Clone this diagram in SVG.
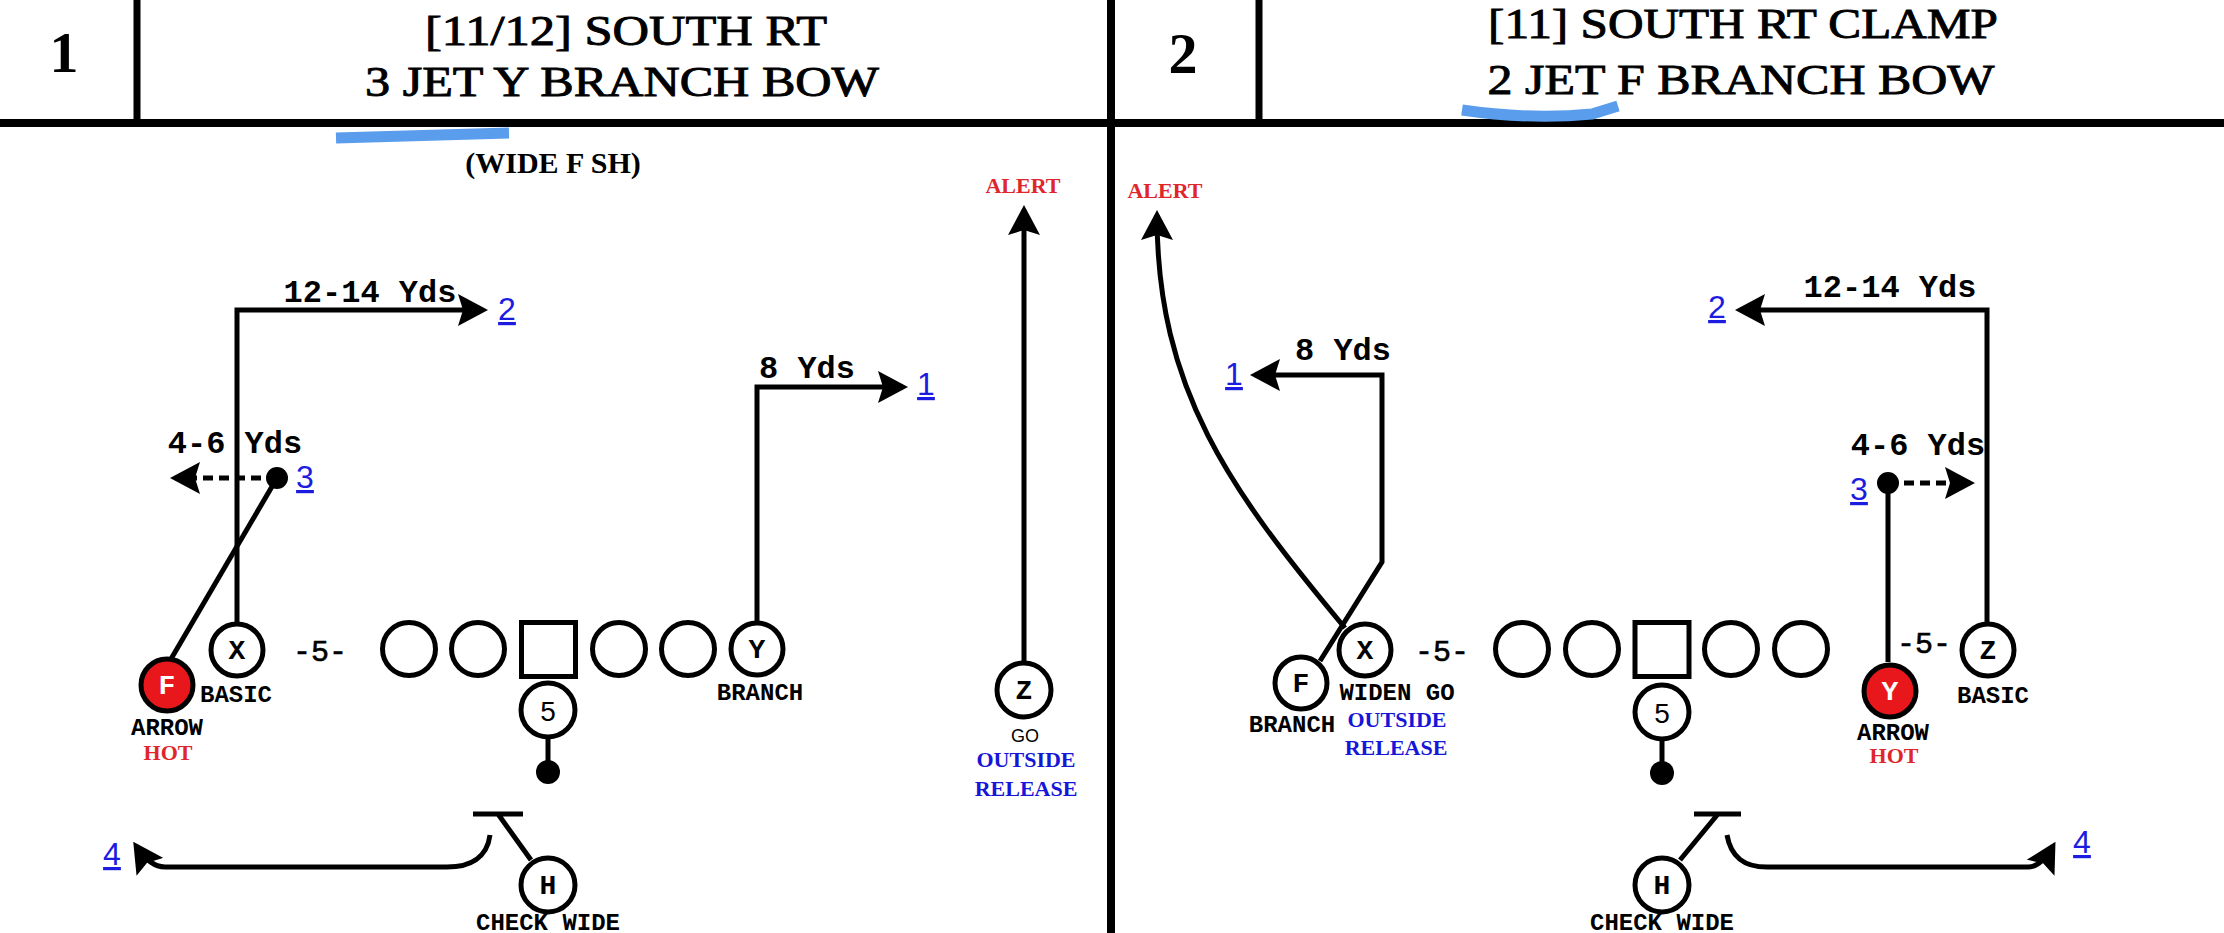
<svg xmlns="http://www.w3.org/2000/svg" width="2224" height="933" viewBox="0 0 2224 933">
<defs>
<style>
.frame{stroke:#000;fill:none}
.pl{fill:#fff;stroke:#000;stroke-width:5}
.hotc{fill:#e8171c;stroke:#000;stroke-width:5}
.rt{fill:none;stroke:#000;stroke-width:5}
.dash{stroke-dasharray:10 6}
.dot{fill:#000}
.title{font-family:"Liberation Serif",serif;font-size:42px;fill:#000;stroke:#000;stroke-width:0.9;text-anchor:middle}
.num{font-family:"Liberation Serif",serif;font-size:58px;font-weight:bold;text-anchor:middle}
.lt{font-family:"Liberation Mono",monospace;font-weight:bold;font-size:28px;text-anchor:middle;fill:#000}
.ltw{font-family:"Liberation Mono",monospace;font-weight:bold;font-size:28px;text-anchor:middle;fill:#fff}
.lbl{font-family:"Liberation Mono",monospace;font-weight:bold;font-size:24px;text-anchor:middle;fill:#000}
.yd{font-family:"Liberation Mono",monospace;font-weight:bold;font-size:32px;text-anchor:middle;fill:#000}
.five{font-family:"Liberation Mono",monospace;font-size:30px;text-anchor:middle;fill:#000;stroke:#000;stroke-width:0.6}
.qb{font-family:"Liberation Sans",sans-serif;font-size:28px;text-anchor:middle;fill:#000}
.pn{font-family:"Liberation Sans",sans-serif;font-size:32px;fill:#1c1ce0;text-decoration:underline;text-anchor:middle}
.red{font-family:"Liberation Serif",serif;font-weight:bold;font-size:22px;fill:#e0262b;text-anchor:middle}
.blue{font-family:"Liberation Serif",serif;font-weight:bold;font-size:22px;fill:#1616d8;text-anchor:middle}
.go{font-family:"Liberation Sans",sans-serif;font-size:18px;text-anchor:middle;fill:#000}
.sub{font-family:"Liberation Serif",serif;font-weight:bold;font-size:30px;text-anchor:middle;fill:#000}
.hl{fill:none;stroke:#5a9ded;stroke-width:11}
</style>
<marker id="ah" markerUnits="userSpaceOnUse" markerWidth="30" markerHeight="32" viewBox="0 0 30 32" refX="25" refY="16" orient="auto">
<path d="M0 0 L30 16 L0 32 L5 16 Z" fill="#000" stroke="none"/>
</marker>
</defs>
<rect x="0" y="0" width="2224" height="933" fill="#fff"/>

<g id="frame">
<path class="frame" stroke-width="8" d="M0 123 H2224"/>
<path class="frame" stroke-width="8" d="M1111 0 V933"/>
<path class="frame" stroke-width="7" d="M137 0 V123 M1259 0 V123"/>
</g>

<g id="header1">
<text class="num" x="64" y="72">1</text>
<text class="title" x="626" y="45" textLength="402" lengthAdjust="spacingAndGlyphs">[11/12] SOUTH RT</text>
<text class="title" x="622" y="96" textLength="514" lengthAdjust="spacingAndGlyphs">3 JET Y BRANCH BOW</text>
<path class="hl" d="M336 138 L509 133"/>
<text class="sub" x="553" y="173">(WIDE F SH)</text>
</g>
<g id="header2">
<text class="num" x="1183" y="73">2</text>
<text class="title" x="1743" y="38" textLength="510" lengthAdjust="spacingAndGlyphs">[11] SOUTH RT CLAMP</text>
<text class="title" x="1741" y="94" textLength="507" lengthAdjust="spacingAndGlyphs">2 JET F BRANCH BOW</text>
<path class="hl" d="M1462 110 Q1530 120 1592 114 L1618 106"/>
</g>

<g id="connectors">
<path class="rt" d="M237 622 L237 310 L483 310" marker-end="url(#ah)"/>
<path class="rt" d="M171 659 L277 478"/>
<path class="rt dash" d="M277 478 L175 478" marker-end="url(#ah)"/>
<path class="rt" d="M757 621 L757 387 L903 387" marker-end="url(#ah)"/>
<path class="rt" d="M1024 662 L1024 210" marker-end="url(#ah)"/>
<path class="rt" d="M548 738 L548 762"/>
<path class="rt" d="M473 814 L523 814 M498 814 L531 860"/>
<path class="rt" d="M490 835 C487 858 470 867 447 867 L165 867 Q150 867 136 846" marker-end="url(#ah)"/>
<path class="rt" d="M1987 622 L1987 310 L1740 310" marker-end="url(#ah)"/>
<path class="rt" d="M1888 662 L1888 483"/>
<path class="rt dash" d="M1888 483 L1970 483" marker-end="url(#ah)"/>
<path class="rt" d="M1320 661 L1382 562 L1382 375 L1255 375" marker-end="url(#ah)"/>
<path class="rt" d="M1345 628 C1230 490 1157 390 1157 215" marker-end="url(#ah)"/>
<path class="rt" d="M1662 739 L1662 762"/>
<path class="rt" d="M1694 814 L1741 814 M1718 814 L1680 860"/>
<path class="rt" d="M1727 835 C1731 858 1745 867 1767 867 L2028 867 Q2041 867 2053 846" marker-end="url(#ah)"/>
</g>

<g id="p1-labels">
<text class="yd" x="370" y="302">12-14 Yds</text>
<text class="pn" x="507" y="320">2</text>
<text class="yd" x="235" y="453">4-6 Yds</text>
<text class="pn" x="305" y="488">3</text>
<text class="yd" x="807" y="378">8 Yds</text>
<text class="pn" x="926" y="395">1</text>
<text class="pn" x="112" y="865">4</text>
<text class="red" x="1023" y="193">ALERT</text>
<text class="five" x="320" y="661">-5-</text>
</g>
<g id="p2-labels">
<text class="yd" x="1890" y="297">12-14 Yds</text>
<text class="pn" x="1717" y="318">2</text>
<text class="yd" x="1918" y="455">4-6 Yds</text>
<text class="pn" x="1859" y="500">3</text>
<text class="yd" x="1343" y="360">8 Yds</text>
<text class="pn" x="1234" y="385">1</text>
<text class="pn" x="2082" y="853">4</text>
<text class="red" x="1165" y="198">ALERT</text>
<text class="five" x="1442" y="661">-5-</text>
<text class="five" x="1924" y="653">-5-</text>
</g>

<g id="p1-dot3"><circle class="dot" cx="277" cy="478" r="11"/></g>
<g id="p1-F"><circle class="hotc" cx="167" cy="685" r="26"/><text class="ltw" x="167" y="694">F</text>
<text class="lbl" x="167" y="735">ARROW</text><text class="red" x="168" y="760">HOT</text></g>
<g id="p1-X"><circle class="pl" cx="237" cy="650" r="26"/><text class="lt" x="237" y="659">X</text>
<text class="lbl" x="236" y="702">BASIC</text></g>
<g id="p1-OL">
<circle class="pl" cx="409" cy="649" r="26.5"/>
<circle class="pl" cx="478" cy="649" r="26.5"/>
<rect class="pl" x="521.5" y="622.5" width="54" height="54"/>
<circle class="pl" cx="619" cy="649" r="26.5"/>
<circle class="pl" cx="688" cy="649" r="26.5"/>
</g>
<g id="p1-Y"><circle class="pl" cx="757" cy="649" r="26"/><text class="lt" x="757" y="658">Y</text>
<text class="lbl" x="760" y="700">BRANCH</text></g>
<g id="p1-QB"><circle class="pl" cx="548" cy="710" r="27"/><text class="qb" x="548" y="721">5</text>
<circle class="dot" cx="548" cy="772" r="12"/></g>
<g id="p1-H"><circle class="pl" cx="548" cy="885" r="27"/><text class="lt" x="548" y="894">H</text>
<text class="lbl" x="548" y="930">CHECK WIDE</text></g>
<g id="p1-Z"><circle class="pl" cx="1024" cy="690" r="27"/><text class="lt" x="1024" y="699">Z</text>
<text class="go" x="1025" y="742">GO</text>
<text class="blue" x="1026" y="767">OUTSIDE</text>
<text class="blue" x="1026" y="796">RELEASE</text></g>

<g id="p2-dot3"><circle class="dot" cx="1888" cy="483" r="11"/></g>
<g id="p2-F"><circle class="pl" cx="1301" cy="683" r="26"/><text class="lt" x="1301" y="692">F</text>
<text class="lbl" x="1292" y="732">BRANCH</text></g>
<g id="p2-X"><circle class="pl" cx="1365" cy="650" r="26"/><text class="lt" x="1365" y="659">X</text>
<text class="lbl" x="1397" y="700">WIDEN GO</text>
<text class="blue" x="1397" y="727">OUTSIDE</text>
<text class="blue" x="1396" y="755">RELEASE</text></g>
<g id="p2-OL">
<circle class="pl" cx="1522" cy="649" r="26.5"/>
<circle class="pl" cx="1592" cy="649" r="26.5"/>
<rect class="pl" x="1635" y="622.5" width="54" height="54"/>
<circle class="pl" cx="1731" cy="649" r="26.5"/>
<circle class="pl" cx="1801" cy="649" r="26.5"/>
</g>
<g id="p2-QB"><circle class="pl" cx="1662" cy="712" r="27"/><text class="qb" x="1662" y="723">5</text>
<circle class="dot" cx="1662" cy="773" r="12"/></g>
<g id="p2-H"><circle class="pl" cx="1662" cy="885" r="27"/><text class="lt" x="1662" y="894">H</text>
<text class="lbl" x="1662" y="930">CHECK WIDE</text></g>
<g id="p2-Y"><circle class="hotc" cx="1890" cy="691" r="26"/><text class="ltw" x="1890" y="700">Y</text>
<text class="lbl" x="1893" y="740">ARROW</text><text class="red" x="1894" y="763">HOT</text></g>
<g id="p2-Z"><circle class="pl" cx="1988" cy="650" r="26"/><text class="lt" x="1988" y="659">Z</text>
<text class="lbl" x="1993" y="703">BASIC</text></g>
</svg>
